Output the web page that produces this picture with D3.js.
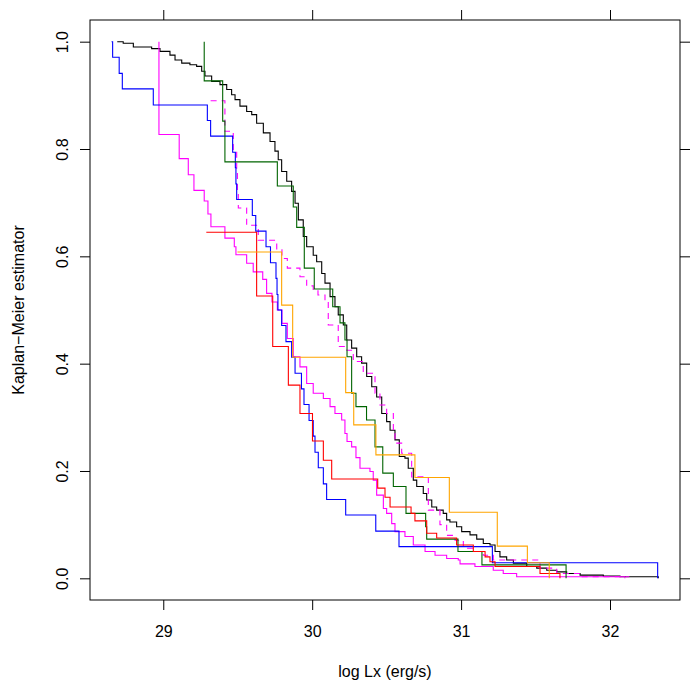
<!DOCTYPE html>
<html>
<head>
<meta charset="utf-8">
<script src="https://cdn.jsdelivr.net/npm/d3@7"></script>
<style>
  body { margin: 0; background: #fff; }
  text { font-family: "Liberation Sans", Arial, Helvetica, sans-serif; font-size: 16px; fill: #000; }
</style>
</head>
<body>
<div id="chart"></div>
<script>
// Kaplan-Meier curves, log Lx (x) vs estimator (y)

var x_ticks = [29, 30, 31, 32]
var y_ticks = [0, 0.2, 0.4, 0.6, 0.8, 1.0]
var x_title = "log Lx (erg/s)"
var y_title = "Kaplan\u2212Meier estimator"

var black_x = [28.691, 28.731, 28.799, 28.922, 28.978, 29.045, 29.079, 29.124, 29.179, 29.224,
  29.258, 29.280, 29.325, 29.381, 29.426, 29.459, 29.482, 29.515, 29.560, 29.594,
  29.627, 29.672, 29.717, 29.750, 29.772, 29.795, 29.829, 29.862, 29.885, 29.907,
  29.940, 29.963, 30.007, 30.030, 30.064, 30.086, 30.120, 30.153, 30.175, 30.209,
  30.232, 30.265, 30.299, 30.332, 30.366, 30.400, 30.433, 30.467, 30.500, 30.523,
  30.556, 30.585, 30.623, 30.645, 30.679, 30.702, 30.746, 30.769, 30.803, 30.836,
  30.880, 30.903, 30.925, 30.970, 31.004, 31.060, 31.105, 31.149, 31.194, 31.228,
  31.261, 31.306, 31.351, 31.441, 31.508, 31.575, 31.642, 31.709, 31.799, 31.955,
  32.067, 32.324]
var black_y = [1.000, 0.997, 0.990, 0.987, 0.982, 0.975, 0.966, 0.960, 0.957, 0.954,
  0.945, 0.936, 0.926, 0.920, 0.911, 0.901, 0.892, 0.880, 0.870, 0.864,
  0.848, 0.830, 0.814, 0.796, 0.780, 0.758, 0.740, 0.721, 0.699, 0.668,
  0.637, 0.618, 0.602, 0.590, 0.568, 0.550, 0.525, 0.506, 0.491, 0.472,
  0.444, 0.429, 0.413, 0.401, 0.376, 0.357, 0.338, 0.307, 0.292, 0.276,
  0.258, 0.227, 0.224, 0.205, 0.183, 0.171, 0.158, 0.146, 0.133, 0.127,
  0.121, 0.109, 0.105, 0.096, 0.087, 0.081, 0.073, 0.065, 0.062, 0.050,
  0.040, 0.034, 0.028, 0.022, 0.019, 0.015, 0.012, 0.009, 0.006, 0.004,
  0.003, 0.000]

var blue_x = [28.653, 28.660, 28.704, 28.725, 28.933, 29.296, 29.318, 29.466, 29.484, 29.488,
  29.493, 29.598, 29.621, 29.690, 29.720, 29.757, 29.764, 29.770, 29.795, 29.824,
  29.862, 29.885, 29.928, 29.945, 29.979, 30.007, 30.019, 30.041, 30.075, 30.097,
  30.225, 30.427, 30.583, 31.210, 32.320]
var blue_y = [1.000, 0.971, 0.941, 0.912, 0.882, 0.853, 0.824, 0.794, 0.765, 0.735,
  0.706, 0.676, 0.647, 0.618, 0.588, 0.559, 0.529, 0.500, 0.471, 0.441,
  0.412, 0.382, 0.353, 0.324, 0.294, 0.265, 0.235, 0.206, 0.176, 0.147,
  0.118, 0.088, 0.059, 0.029, 0.000]

var magenta_x = [28.971, 28.971, 29.107, 29.168, 29.206, 29.275, 29.300, 29.320, 29.414, 29.477,
  29.488, 29.560, 29.604, 29.668, 29.694, 29.730, 29.766, 29.797, 29.833, 29.873,
  29.918, 29.963, 30.007, 30.075, 30.120, 30.153, 30.198, 30.220, 30.234, 30.265,
  30.294, 30.321, 30.388, 30.410, 30.433, 30.478, 30.500, 30.534, 30.556, 30.623,
  30.679, 30.758, 30.825, 30.903, 30.981, 30.993, 31.093, 31.216, 31.283, 31.373,
  32.100]
var magenta_y = [1.000, 0.827, 0.782, 0.752, 0.723, 0.703, 0.679, 0.655, 0.634, 0.618,
  0.603, 0.587, 0.571, 0.557, 0.531, 0.515, 0.500, 0.475, 0.447, 0.413,
  0.394, 0.363, 0.345, 0.335, 0.320, 0.307, 0.295, 0.270, 0.255, 0.245,
  0.225, 0.205, 0.199, 0.183, 0.155, 0.130, 0.121, 0.102, 0.087, 0.078,
  0.062, 0.050, 0.043, 0.037, 0.034, 0.027, 0.022, 0.015, 0.009, 0.003,
  0.000]

var dashed_x = [29.318, 29.414, 29.470, 29.493, 29.498, 29.504, 29.560, 29.638, 29.762, 29.797,
  29.833, 29.918, 29.963, 30.007, 30.039, 30.086, 30.108, 30.175, 30.232, 30.276,
  30.343, 30.422, 30.455, 30.500, 30.545, 30.556, 30.601, 30.668, 30.780, 30.858,
  30.903, 30.959, 31.015, 31.082, 31.149, 31.216, 31.530, 31.642, 31.799, 32.130]
var dashed_y = [0.890, 0.833, 0.796, 0.760, 0.721, 0.690, 0.658, 0.630, 0.612, 0.596,
  0.578, 0.562, 0.545, 0.537, 0.528, 0.519, 0.472, 0.432, 0.425, 0.404,
  0.382, 0.345, 0.323, 0.307, 0.270, 0.252, 0.233, 0.189, 0.127, 0.100,
  0.080, 0.071, 0.056, 0.050, 0.043, 0.034, 0.019, 0.009, 0.003, 0.003]

var green_x = [29.275, 29.275, 29.399, 29.414, 29.766, 29.873, 29.896, 29.947, 30.014, 30.138,
  30.187, 30.220, 30.234, 30.265, 30.294, 30.365, 30.422, 30.474, 30.545, 30.630,
  30.762, 30.769, 30.979, 31.140, 31.705]
var green_y = [1.000, 0.927, 0.852, 0.776, 0.731, 0.692, 0.654, 0.578, 0.539, 0.506,
  0.476, 0.444, 0.413, 0.345, 0.320, 0.295, 0.245, 0.196, 0.171, 0.121,
  0.096, 0.073, 0.050, 0.025, 0.000]

var red_x = [29.289, 29.627, 29.735, 29.840, 29.918, 30.002, 30.075, 30.131, 30.440, 30.489,
  30.523, 30.664, 30.690, 30.769, 30.836, 30.970, 31.082, 31.161, 31.194, 31.228,
  31.530, 31.664]
var red_y = [0.645, 0.526, 0.432, 0.360, 0.307, 0.256, 0.220, 0.185, 0.168, 0.151,
  0.133, 0.121, 0.107, 0.084, 0.075, 0.062, 0.050, 0.040, 0.031, 0.022,
  0.009, 0.000]

var orange_x = [29.498, 29.795, 29.869, 30.225, 30.279, 30.428, 30.690, 30.921, 31.243, 31.445,
  31.592]
var orange_y = [0.608, 0.509, 0.412, 0.346, 0.286, 0.230, 0.188, 0.123, 0.060, 0.029,
  0.000]

var curves = [
  { xs: black_x, ys: black_y, color: "#000000", dash: null },
  { xs: magenta_x, ys: magenta_y, color: "#ff00ff", dash: null },
  { xs: dashed_x, ys: dashed_y, color: "#ff00ff", dash: "6,5" },
  { xs: blue_x, ys: blue_y, color: "#0000ff", dash: null },
  { xs: green_x, ys: green_y, color: "#006400", dash: null },
  { xs: red_x, ys: red_y, color: "#ff0000", dash: null },
  { xs: orange_x, ys: orange_y, color: "#ffa500", dash: null }
]

var width = 700,
    height = 700,
    plot_left = 90, plot_right = 680, plot_top = 20, plot_bottom = 600

var x = d3.scaleLinear()
    .domain([28.508, 32.470])
    .range([plot_left, plot_right])
var y = d3.scaleLinear()
    .domain([-0.0404, 1.0404])
    .range([plot_bottom, plot_top])

var svg = d3.select("#chart").append("svg")
    .attr("width", width)
    .attr("height", height)

var line = d3.line()
    .x(function(d) { return x(d[0]) })
    .y(function(d) { return y(d[1]) })
    .curve(d3.curveStepAfter)

curves.forEach(function(c) {
  var pts = c.xs.map(function(v, i) { return [v, c.ys[i]] })
  svg.append("path")
      .datum(pts)
      .attr("d", line)
      .attr("fill", "none")
      .attr("stroke", c.color)
      .attr("stroke-width", 1.1)
      .attr("stroke-dasharray", c.dash)
})

// box
svg.append("rect")
    .attr("x", plot_left)
    .attr("y", plot_top)
    .attr("width", plot_right - plot_left)
    .attr("height", plot_bottom - plot_top)
    .attr("fill", "none")
    .attr("stroke", "#000")
    .attr("stroke-width", 1)

// axes on all four sides, labels only bottom and left
var gx = svg.append("g")
    .attr("transform", "translate(0," + plot_bottom + ")")
    .call(d3.axisBottom(x).tickValues(x_ticks).tickSize(10).tickFormat(d3.format("d")))
gx.select(".domain").remove()
gx.selectAll("text")
    .attr("y", 37)
    .attr("dy", null)
    .style("font-size", "16px")
    .style("font-family", "'Liberation Sans', Arial, sans-serif")

var gy = svg.append("g")
    .attr("transform", "translate(" + plot_left + ",0)")
    .call(d3.axisLeft(y).tickValues(y_ticks).tickSize(10).tickFormat(d3.format(".1f")))
gy.select(".domain").remove()
gy.selectAll("text")
    .attr("x", null)
    .attr("dy", null)
    .attr("text-anchor", "middle")
    .attr("transform", "translate(-22,0) rotate(-90)")
    .style("font-size", "16px")
    .style("font-family", "'Liberation Sans', Arial, sans-serif")

var gt = svg.append("g")
    .attr("transform", "translate(0," + plot_top + ")")
    .call(d3.axisTop(x).tickValues(x_ticks).tickSize(10).tickFormat(""))
gt.select(".domain").remove()

var gr = svg.append("g")
    .attr("transform", "translate(" + plot_right + ",0)")
    .call(d3.axisRight(y).tickValues(y_ticks).tickSize(10).tickFormat(""))
gr.select(".domain").remove()

svg.selectAll(".tick line").attr("stroke", "#000")

// titles
svg.append("text")
    .attr("x", (plot_left + plot_right) / 2)
    .attr("y", 677)
    .attr("text-anchor", "middle")
    .text(x_title)

svg.append("text")
    .attr("transform", "translate(24," + (plot_top + plot_bottom) / 2 + ") rotate(-90)")
    .attr("text-anchor", "middle")
    .text(y_title)
</script>
</body>
</html>
